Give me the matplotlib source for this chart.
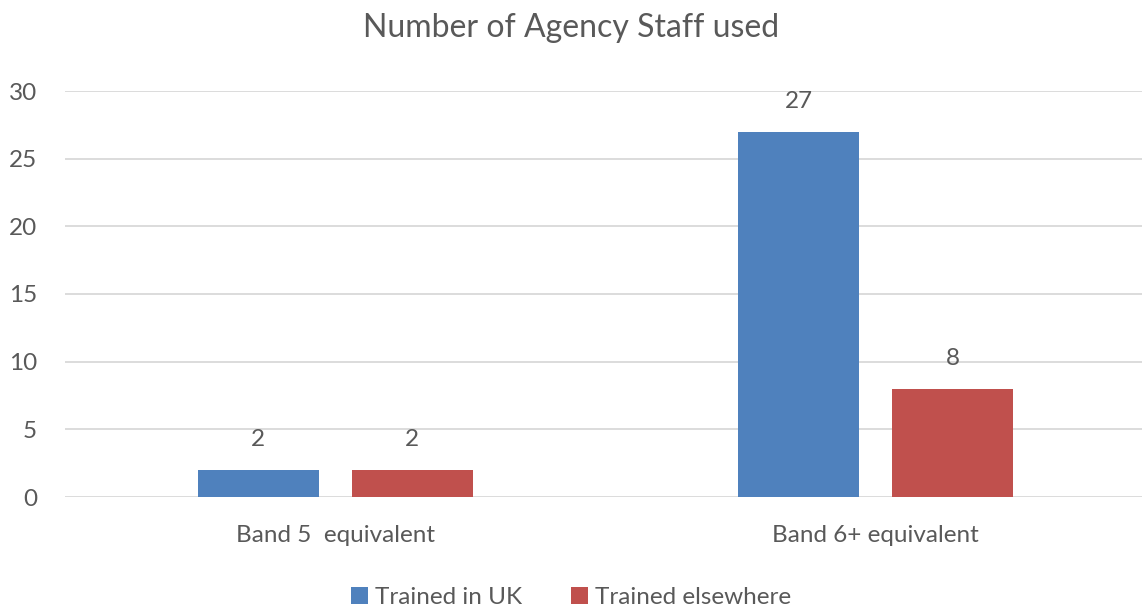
import matplotlib
matplotlib.use("Agg")
import matplotlib.pyplot as plt
import numpy as np

categories = ["Band 5  equivalent", "Band 6+ equivalent"]
series_names = ["Trained in UK", "Trained elsewhere"]
trained_uk = [2, 27]
trained_elsewhere = [2, 8]
title = "Number of Agency Staff used"

colors = ["#4F81BD", "#C0504D"]
text_color = "#595959"

plt.rcParams['font.family'] = ['Lato', 'DejaVu Sans']

fig = plt.figure(figsize=(11.42, 6.12), dpi=100)
ax = fig.add_axes([65/1142, 1-497/612, (1146-65)/1142, (497-91)/612])

x = np.arange(len(categories))
w = 0.224
off = 0.1425
for vals, name, c, o in [(trained_uk, series_names[0], colors[0], -off),
                         (trained_elsewhere, series_names[1], colors[1], off)]:
    bars = ax.bar(x + o, vals, width=w, color=c, label=name, zorder=3)
    for b, v in zip(bars, vals):
        ax.annotate(str(v), (b.get_x() + b.get_width()/2, v), xytext=(0, 22),
                    textcoords="offset points", ha="center", va="center",
                    fontsize=17.5, color=text_color)

ax.set_xlim(-0.5, 1.5)
ax.set_ylim(0, 30)
ax.set_yticks([0, 5, 10, 15, 20, 25, 30])
ax.set_xticks(x)
ax.set_xticklabels(categories)
ax.grid(axis='y', color="#D9D9D9", linewidth=1.3, zorder=0)
for s in ax.spines.values():
    s.set_visible(False)
ax.tick_params(axis='both', length=0, labelsize=17.5, colors=text_color)
ax.tick_params(axis='y', pad=20)
ax.tick_params(axis='x', pad=20)

fig.suptitle(title, y=0.978, fontsize=23, color=text_color)
leg = fig.legend(loc='lower center', bbox_to_anchor=(0.5, -0.03), ncol=2, frameon=False,
                 fontsize=17.5, handlelength=0.7, handleheight=0.7, handletextpad=0.3,
                 columnspacing=2.0, labelcolor=text_color)

fig.savefig("out.png", dpi=100)
